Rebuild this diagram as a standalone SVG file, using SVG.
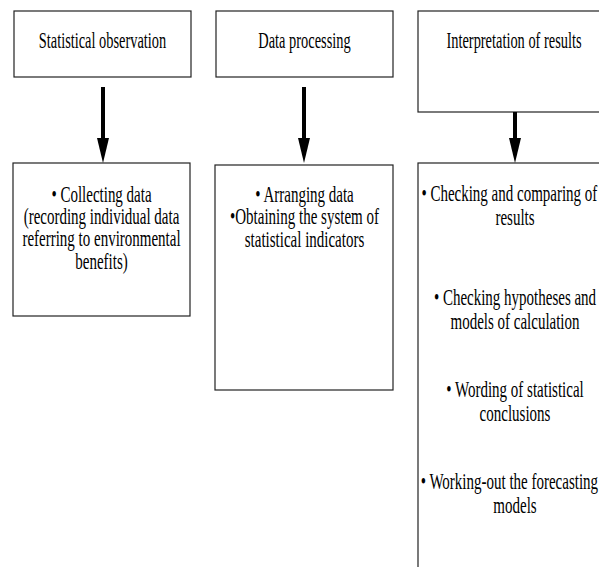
<svg xmlns="http://www.w3.org/2000/svg" width="599" height="567" viewBox="0 0 599 567">
<defs>
<style>
.box{fill:#fff;stroke:#222;stroke-width:1.2}
.t{font-family:"Liberation Serif","Times New Roman","DejaVu Serif",serif;font-size:24px;text-anchor:middle;fill:#000}
.arr{stroke:#000;stroke-width:4;fill:none}
</style>
<marker id="ah" markerUnits="userSpaceOnUse" markerWidth="25" markerHeight="12" viewBox="0 0 25 12" refX="0" refY="6" orient="auto">
<path d="M0,0 L25,6 L0,12 Z" fill="#000"/>
</marker>
</defs>
<rect width="599" height="567" fill="#fff"/>
<g id="n1">
<rect class="box" x="14" y="11" width="177" height="66"/>
<g transform="translate(102.5,0) scale(0.6,1)"><text class="t" x="0" y="48">Statistical observation</text></g>
</g>
<g id="n2">
<rect class="box" x="216" y="11" width="177" height="66"/>
<g transform="translate(304.5,0) scale(0.6,1)"><text class="t" x="0" y="48">Data processing</text></g>
</g>
<g id="n3">
<rect class="box" x="418" y="11" width="230" height="101"/>
<g transform="translate(514,0) scale(0.6,1)"><text class="t" x="0" y="48">Interpretation of results</text></g>
</g>
<g id="n4">
<rect class="box" x="13" y="163" width="177" height="153"/>
<g transform="translate(101.5,0) scale(0.625,1)">
<text class="t" x="0" y="202">• Collecting data</text>
<text class="t" x="0" y="224">(recording individual data</text>
<text class="t" x="0" y="246.5">referring to environmental</text>
<text class="t" x="0" y="269">benefits)</text>
</g>
</g>
<g id="n5">
<rect class="box" x="215" y="165" width="178" height="225"/>
<g transform="translate(304.5,0) scale(0.625,1)">
<text class="t" x="0" y="202">• Arranging data</text>
<text class="t" x="0" y="224.5">•Obtaining the system of</text>
<text class="t" x="0" y="247">statistical indicators</text>
</g>
</g>
<g id="n6">
<rect class="box" x="418" y="163" width="230" height="450"/>
<g transform="translate(515,0) scale(0.625,1)">
<text class="t" x="-9" y="201">• Checking and comparing of</text>
<text class="t" x="0" y="225">results</text>
<text class="t" x="0" y="305">• Checking hypotheses and</text>
<text class="t" x="0" y="329">models of calculation</text>
<text class="t" x="0" y="397">• Wording of statistical</text>
<text class="t" x="0" y="421">conclusions</text>
<text class="t" x="-9" y="489">• Working-out the forecasting</text>
<text class="t" x="0" y="513">models</text>
</g>
</g>
<g id="connectors">
<line class="arr" x1="103" y1="87" x2="103" y2="138" marker-end="url(#ah)"/>
<line class="arr" x1="304" y1="87" x2="304" y2="138" marker-end="url(#ah)"/>
<line class="arr" x1="515" y1="112" x2="515" y2="138" marker-end="url(#ah)"/>
</g>
</svg>
